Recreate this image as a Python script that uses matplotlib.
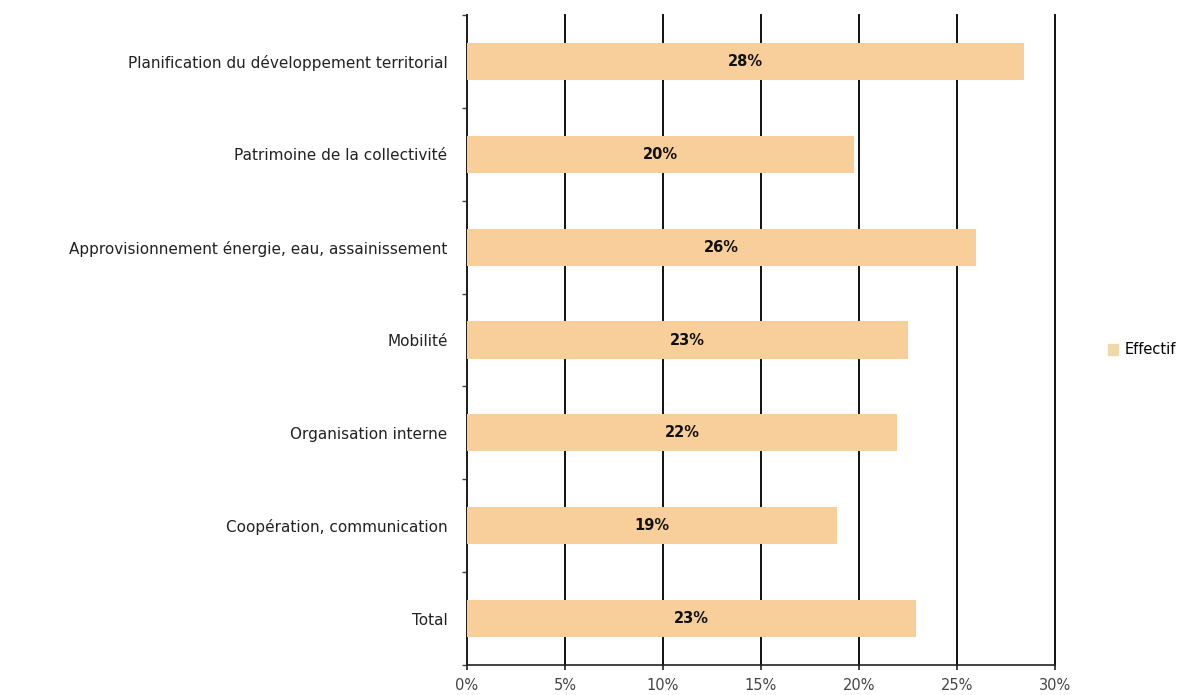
import matplotlib
matplotlib.use("Agg")
import matplotlib.pyplot as plt
import numpy as np

categories = [
    "Planification du développement territorial",
    "Patrimoine de la collectivité",
    "Approvisionnement énergie, eau, assainissement",
    "Mobilité",
    "Organisation interne",
    "Coopération, communication",
    "Total",
]
values = [28.4, 19.75, 25.95, 22.5, 21.95, 18.9, 22.9]
bar_labels = ["28%", "20%", "26%", "23%", "22%", "19%", "23%"]
series_name = "Effectif"
xticks = [0, 5, 10, 15, 20, 25, 30]
xtick_labels = ["0%", "5%", "10%", "15%", "20%", "25%", "30%"]

plt.rcParams['font.family'] = ['DejaVu Sans']

fig = plt.figure(figsize=(11.92, 6.95), dpi=100)
ax = fig.add_axes([467/1192, 1 - 665/695, (1055 - 467)/1192, (665 - 15)/695])

y = np.arange(len(categories))
bars = ax.barh(y, values, height=0.4, color="#F8CF9A", zorder=3, label=series_name)
for b, lab in zip(bars, bar_labels):
    ax.text(b.get_width() / 2, b.get_y() + b.get_height() / 2, lab,
            ha="center", va="center", fontsize=10.5, fontweight="bold", color="#111111", zorder=4)

ax.set_xlim(0, 30)
ax.set_ylim(len(categories) - 0.5, -0.5)
ax.set_xticks(xticks)
ax.set_xticklabels(xtick_labels, fontsize=10.5, color="#444444")
ax.set_yticks(y)
ax.set_yticklabels(categories, fontsize=11, color="#222222")
ax.set_yticks(np.arange(-0.5, len(categories) + 0.5, 1), minor=True)
ax.tick_params(axis="y", which="major", length=0, pad=14)
ax.tick_params(axis="y", which="minor", length=3.6, width=1, color="#444444")
ax.tick_params(axis="x", which="major", length=3.6, width=1.2, color="#222222", pad=6)

ax.xaxis.grid(True, color="#111111", linewidth=1.4, zorder=0)
for gl in ax.get_xgridlines():
    gl.set_clip_on(False)
ax.set_axisbelow(True)
for s in ["top", "right"]:
    ax.spines[s].set_visible(False)
ax.spines["left"].set_color("#222222")
ax.spines["left"].set_linewidth(1.2)
ax.spines["bottom"].set_color("#222222")
ax.spines["bottom"].set_linewidth(1.2)

leg = fig.legend(handles=[bars], labels=[series_name], loc="center left",
                 bbox_to_anchor=(1095/1192, 1 - 350/695), frameon=False,
                 fontsize=10.5, handlelength=0.7, handleheight=0.7, handletextpad=0.4)
for h in leg.legend_handles:
    h.set_color("#EED9A9")

fig.savefig("out.png", dpi=100)
